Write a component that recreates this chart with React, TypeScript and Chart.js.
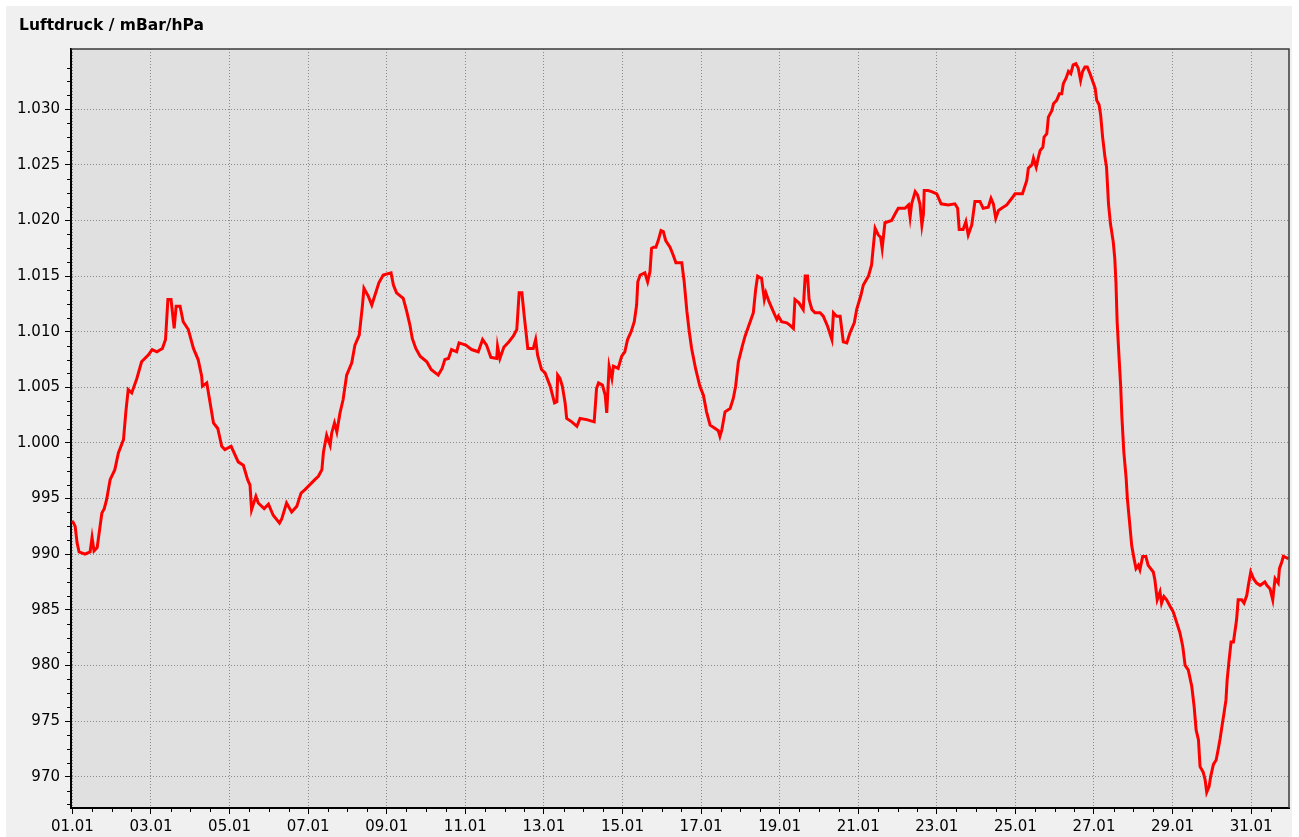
import React, { useEffect, useRef } from "react";
import { Chart, registerables } from "chart.js";

Chart.register(...registerables);

const chartTitle = "Luftdruck / mBar/hPa";

// time in days since 01.01 00:00
const days: number[] = [
  0.00, 0.07, 0.12, 0.17, 0.32, 0.45, 0.50, 0.55, 0.63, 0.75, 0.81, 0.87, 0.96, 1.08, 1.17, 1.30, 1.36, 1.42, 1.51, 1.64,
  1.76, 1.93, 2.03, 2.15, 2.29, 2.37, 2.43, 2.51, 2.59, 2.64, 2.74, 2.82, 2.95, 3.08, 3.20, 3.29, 3.31, 3.42, 3.50, 3.59,
  3.70, 3.80, 3.88, 4.04, 4.22, 4.35, 4.46, 4.52, 4.56, 4.67, 4.73, 4.88, 4.99, 5.11, 5.27, 5.33, 5.45, 5.58, 5.71, 5.82,
  5.92, 6.17, 6.26, 6.35, 6.39, 6.47, 6.56, 6.60, 6.67, 6.73, 6.81, 6.89, 6.98, 7.11, 7.19, 7.30, 7.38, 7.42, 7.53, 7.62,
  7.72, 7.80, 7.91, 8.11, 8.17, 8.25, 8.42, 8.51, 8.59, 8.65, 8.74, 8.85, 9.02, 9.13, 9.31, 9.41, 9.48, 9.57, 9.65, 9.78,
  9.84, 10.01, 10.16, 10.33, 10.44, 10.54, 10.65, 10.80, 10.82, 10.88, 10.98, 11.11, 11.22, 11.31, 11.37, 11.44, 11.50, 11.59, 11.73, 11.79,
  11.84, 11.94, 12.03, 12.16, 12.27, 12.33, 12.35, 12.41, 12.47, 12.54, 12.58, 12.71, 12.84, 12.92, 13.09, 13.28, 13.34, 13.39, 13.49, 13.56,
  13.60, 13.66, 13.73, 13.77, 13.89, 13.98, 14.06, 14.13, 14.22, 14.30, 14.36, 14.39, 14.45, 14.57, 14.64, 14.70, 14.74, 14.79, 14.85, 14.91,
  14.98, 15.04, 15.10, 15.21, 15.29, 15.36, 15.51, 15.57, 15.64, 15.70, 15.76, 15.86, 15.97, 16.06, 16.14, 16.23, 16.36, 16.44, 16.48, 16.53,
  16.61, 16.74, 16.82, 16.88, 16.95, 17.05, 17.12, 17.25, 17.33, 17.39, 17.44, 17.54, 17.61, 17.65, 17.73, 17.84, 17.93, 17.97, 18.05, 18.18,
  18.26, 18.35, 18.39, 18.49, 18.60, 18.65, 18.71, 18.75, 18.82, 18.90, 19.03, 19.11, 19.22, 19.33, 19.37, 19.45, 19.54, 19.62, 19.71, 19.79,
  19.90, 19.96, 20.07, 20.13, 20.26, 20.34, 20.38, 20.43, 20.51, 20.57, 20.61, 20.68, 20.85, 20.94, 21.02, 21.19, 21.28, 21.32, 21.36, 21.45,
  21.51, 21.57, 21.62, 21.66, 21.68, 21.78, 21.87, 22.00, 22.11, 22.29, 22.46, 22.53, 22.57, 22.67, 22.74, 22.80, 22.89, 22.97, 23.10, 23.18,
  23.31, 23.38, 23.44, 23.50, 23.57, 23.65, 23.78, 23.91, 23.99, 24.18, 24.29, 24.33, 24.42, 24.46, 24.53, 24.58, 24.63, 24.70, 24.73, 24.80,
  24.84, 24.93, 24.97, 25.05, 25.12, 25.18, 25.22, 25.29, 25.35, 25.41, 25.47, 25.54, 25.60, 25.66, 25.71, 25.77, 25.83, 25.90, 25.97, 26.03,
  26.07, 26.13, 26.17, 26.22, 26.28, 26.32, 26.37, 26.42, 26.49, 26.53, 26.56, 26.59, 26.64, 26.68, 26.71, 26.76, 26.82, 26.85, 26.90, 26.96,
  27.02, 27.07, 27.13, 27.17, 27.24, 27.32, 27.38, 27.51, 27.55, 27.61, 27.68, 27.72, 27.78, 27.85, 27.94, 28.02, 28.11, 28.19, 28.26, 28.32,
  28.40, 28.49, 28.55, 28.60, 28.66, 28.70, 28.78, 28.83, 28.87, 28.93, 28.97, 29.04, 29.11, 29.17, 29.21, 29.27, 29.31, 29.36, 29.39, 29.44,
  29.49, 29.55, 29.63, 29.67, 29.76, 29.82, 29.89, 29.93, 29.99, 30.06, 30.14, 30.23, 30.35, 30.40, 30.48, 30.55, 30.58, 30.61, 30.69, 30.72,
  30.78, 30.82, 30.95,
];

// air pressure in hPa
const pressure: number[] = [
  993.0, 992.5, 991.0, 990.2, 990.0, 990.2, 991.5, 990.3, 990.6, 993.7, 994.1, 994.9, 996.7, 997.6, 999.1, 1000.3, 1002.8, 1004.8, 1004.5, 1005.8,
  1007.3, 1007.9, 1008.4, 1008.2, 1008.5, 1009.3, 1012.9, 1012.9, 1010.3, 1012.3, 1012.3, 1010.9, 1010.2, 1008.5, 1007.5, 1006.0, 1005.1, 1005.4, 1003.7, 1001.8,
  1001.3, 999.7, 999.4, 999.7, 998.3, 998.0, 996.7, 996.2, 994.0, 995.2, 994.6, 994.1, 994.5, 993.5, 992.8, 993.2, 994.6, 993.8, 994.3, 995.5,
  995.8, 996.7, 997.0, 997.6, 999.2, 1000.7, 999.8, 1000.9, 1001.8, 1001.0, 1002.7, 1003.9, 1006.1, 1007.2, 1008.8, 1009.7, 1012.3, 1013.9, 1013.2, 1012.4,
  1013.5, 1014.4, 1015.1, 1015.3, 1014.2, 1013.5, 1013.0, 1011.8, 1010.6, 1009.4, 1008.5, 1007.8, 1007.3, 1006.6, 1006.1, 1006.7, 1007.5, 1007.6, 1008.4, 1008.2,
  1009.0, 1008.8, 1008.4, 1008.2, 1009.3, 1008.8, 1007.7, 1007.6, 1008.7, 1007.6, 1008.6, 1009.1, 1009.6, 1010.2, 1013.5, 1013.5, 1011.4, 1008.5, 1008.5, 1009.3,
  1007.9, 1006.6, 1006.3, 1005.1, 1003.6, 1003.7, 1006.1, 1005.8, 1005.1, 1003.6, 1002.2, 1001.9, 1001.5, 1002.2, 1002.1, 1001.9, 1004.9, 1005.4, 1005.2, 1004.3,
  1002.7, 1006.9, 1005.8, 1006.9, 1006.7, 1007.8, 1008.2, 1009.3, 1010.0, 1010.9, 1012.4, 1014.5, 1015.1, 1015.3, 1014.5, 1015.4, 1017.5, 1017.6, 1017.6, 1018.2,
  1019.1, 1019.0, 1018.2, 1017.6, 1016.9, 1016.2, 1016.2, 1014.5, 1011.8, 1010.0, 1008.5, 1006.7, 1005.1, 1004.3, 1002.8, 1001.6, 1001.3, 1001.1, 1000.6, 1001.2,
  1002.8, 1003.1, 1004.0, 1005.1, 1007.3, 1008.7, 1009.6, 1010.9, 1011.7, 1013.8, 1015.0, 1014.8, 1012.9, 1013.5, 1012.7, 1011.8, 1011.1, 1011.4, 1010.9, 1010.8,
  1010.6, 1010.3, 1012.9, 1012.6, 1012.0, 1015.0, 1015.0, 1012.9, 1012.0, 1011.7, 1011.7, 1011.4, 1010.5, 1009.3, 1011.7, 1011.4, 1011.4, 1009.1, 1009.0, 1009.9,
  1010.8, 1012.0, 1013.3, 1014.2, 1015.0, 1016.0, 1017.5, 1019.3, 1018.7, 1018.5, 1017.5, 1019.8, 1020.0, 1020.6, 1021.1, 1021.1, 1021.4, 1020.3, 1021.5, 1022.6,
  1022.3, 1021.5, 1019.6, 1020.6, 1022.7, 1022.7, 1022.6, 1022.4, 1021.5, 1021.4, 1021.5, 1021.1, 1019.2, 1019.2, 1019.9, 1018.7, 1019.6, 1021.7, 1021.7, 1021.1,
  1021.2, 1022.0, 1021.5, 1020.2, 1020.9, 1021.1, 1021.4, 1022.0, 1022.4, 1022.4, 1023.6, 1024.7, 1025.0, 1025.6, 1024.8, 1025.6, 1026.3, 1026.6, 1027.5, 1027.8,
  1029.3, 1029.9, 1030.5, 1030.8, 1031.4, 1031.4, 1032.3, 1032.8, 1033.4, 1033.2, 1034.0, 1034.1, 1033.7, 1032.6, 1033.4, 1033.8, 1033.8, 1033.2, 1032.5, 1031.9,
  1030.8, 1030.4, 1029.5, 1027.5, 1025.7, 1024.8, 1021.5, 1019.7, 1018.1, 1016.6, 1014.4, 1010.9, 1007.6, 1005.1, 1002.4, 999.2, 996.8, 995.0, 993.1, 990.8,
  989.6, 988.7, 989.0, 988.6, 989.8, 989.8, 989.0, 988.4, 987.7, 985.9, 986.6, 985.6, 986.2, 985.9, 985.3, 984.8, 983.8, 982.9, 981.7, 980.0,
  979.6, 978.1, 976.3, 974.2, 973.3, 970.9, 970.4, 969.7, 968.6, 969.1, 970.0, 971.1, 971.5, 972.6, 973.4, 974.8, 975.7, 976.9, 978.7, 980.5,
  982.1, 982.1, 984.1, 985.9, 985.9, 985.6, 986.3, 987.2, 988.4, 987.8, 987.4, 987.2, 987.5, 987.2, 986.9, 985.9, 986.9, 987.8, 987.4, 988.7,
  989.3, 989.8, 989.6,
];

const xTickDays: number[] = [0, 2, 4, 6, 8, 10, 12, 14, 16, 18, 20, 22, 24, 26, 28, 30];
const xTickLabels: string[] = [
  "01.01", "03.01", "05.01", "07.01", "09.01", "11.01", "13.01", "15.01",
  "17.01", "19.01", "21.01", "23.01", "25.01", "27.01", "29.01", "31.01",
];
const yTickValues: number[] = [970, 975, 980, 985, 990, 995, 1000, 1005, 1010, 1015, 1020, 1025, 1030];
const yTickLabels: string[] = [
  "970", "975", "980", "985", "990", "995", "1.000", "1.005", "1.010", "1.015", "1.020", "1.025", "1.030",
];

const X_MIN = -0.036;
const X_MAX = 30.964;
const Y_MIN = 967.18;
const Y_MAX = 1035.42;

const W = 1299;
const H = 837;
const FONT = "'DejaVu Sans', Verdana, sans-serif";

const framePlugin = {
  id: "frame",
  beforeDraw(chart: any) {
    const { ctx, chartArea: a } = chart;
    ctx.save();
    ctx.fillStyle = "#e0e0e0";
    ctx.fillRect(a.left, a.top, a.right - a.left, a.bottom - a.top);
    ctx.restore();
  },
  afterDraw(chart: any) {
    const { ctx, chartArea: a, scales } = chart;
    ctx.save();
    ctx.strokeStyle = "#000";
    ctx.lineWidth = 1;
    ctx.beginPath();
    // minor y ticks every 1.25
    for (let i = 0; i < 200; i++) {
      const v = 967.5 + i * 1.25;
      if (v > 1034) break;
      if (Math.abs(v / 5 - Math.round(v / 5)) < 1e-6) continue;
      const py = Math.round(scales.y.getPixelForValue(v)) + 0.5;
      ctx.moveTo(a.left - 4, py);
      ctx.lineTo(a.left, py);
    }
    // minor x ticks every 0.5 day
    for (let i = 1; i <= 61; i++) {
      const d = i * 0.5;
      if (i % 4 === 0) continue;
      const px = Math.round(scales.x.getPixelForValue(d)) + 0.5;
      ctx.moveTo(px, a.bottom);
      ctx.lineTo(px, a.bottom + 4);
    }
    ctx.stroke();
    // top and right frame
    ctx.strokeStyle = "#3a3a3a";
    ctx.lineWidth = 1.5;
    ctx.beginPath();
    ctx.moveTo(a.left, a.top);
    ctx.lineTo(a.right, a.top);
    ctx.lineTo(a.right, a.bottom);
    ctx.stroke();
    ctx.restore();
  },
};

export default function App() {
  const canvasRef = useRef<HTMLCanvasElement | null>(null);

  useEffect(() => {
    const canvas = canvasRef.current;
    if (!canvas) return;
    const points = days.map((d, i) => ({ x: d, y: pressure[i] }));
    const chart = new Chart(canvas, {
      type: "line",
      data: {
        datasets: [
          {
            label: chartTitle,
            data: points,
            borderColor: "#ff0000",
            backgroundColor: "#ff0000",
            borderWidth: 3,
            pointRadius: 0,
            tension: 0,
            fill: false,
          },
        ],
      },
      options: {
        animation: false,
        responsive: false,
        maintainAspectRatio: false,
        layout: { padding: { top: 49, right: 10, left: 0, bottom: 0 } },
        plugins: {
          legend: { display: false },
          tooltip: { enabled: false },
          title: { display: false },
        },
        scales: {
          x: {
            type: "linear",
            min: X_MIN,
            max: X_MAX,
            afterBuildTicks: (scale: any) => {
              scale.ticks = xTickDays.map((v) => ({ value: v }));
            },
            afterFit: (scale: any) => {
              scale.height = H - 808;
            },
            ticks: {
              autoSkip: false,
              maxRotation: 0,
              padding: 4,
              color: "#000",
              font: { family: FONT, size: 15 },
              callback: (value: any) => {
                const idx = xTickDays.indexOf(Number(value));
                return idx >= 0 ? xTickLabels[idx] : "";
              },
            },
            grid: {
              color: "#8a8a8a",
              lineWidth: 1,
              drawTicks: true,
              tickLength: 6,
              tickColor: "#000",
              tickWidth: 1,
              borderDash: [1, 2],
            } as any,
            border: { display: true, color: "#000", width: 2, dash: [1, 2] },
          },
          y: {
            type: "linear",
            min: Y_MIN,
            max: Y_MAX,
            afterBuildTicks: (scale: any) => {
              scale.ticks = yTickValues.map((v) => ({ value: v }));
            },
            afterFit: (scale: any) => {
              scale.width = 71;
            },
            ticks: {
              autoSkip: false,
              padding: 5,
              color: "#000",
              font: { family: FONT, size: 15 },
              callback: (value: any) => {
                const idx = yTickValues.indexOf(Number(value));
                return idx >= 0 ? yTickLabels[idx] : "";
              },
            },
            grid: {
              color: "#8a8a8a",
              lineWidth: 1,
              drawTicks: true,
              tickLength: 6,
              tickColor: "#000",
              tickWidth: 1,
              borderDash: [1, 2],
            } as any,
            border: { display: true, color: "#000", width: 2, dash: [1, 2] },
          },
        },
      } as any,
      plugins: [framePlugin],
    });
    return () => chart.destroy();
  }, []);

  return (
    <div
      style={{
        position: "fixed",
        left: 0,
        top: 0,
        width: W,
        height: H,
        background: "#ffffff",
        overflow: "hidden",
      }}
    >
      <div
        style={{
          position: "absolute",
          left: 6,
          top: 6,
          width: 1286,
          height: H - 6,
          background: "#f0f0f0",
        }}
      />
      <canvas
        ref={canvasRef}
        width={W}
        height={H}
        style={{ position: "absolute", left: 0, top: 0, width: W, height: H }}
      />
      <div
        style={{
          position: "absolute",
          left: 19,
          top: 17,
          fontFamily: FONT,
          fontWeight: "bold",
          fontSize: 15.5,
          lineHeight: "16px",
          color: "#000",
          whiteSpace: "nowrap",
        }}
      >
        {chartTitle}
      </div>
    </div>
  );
}
